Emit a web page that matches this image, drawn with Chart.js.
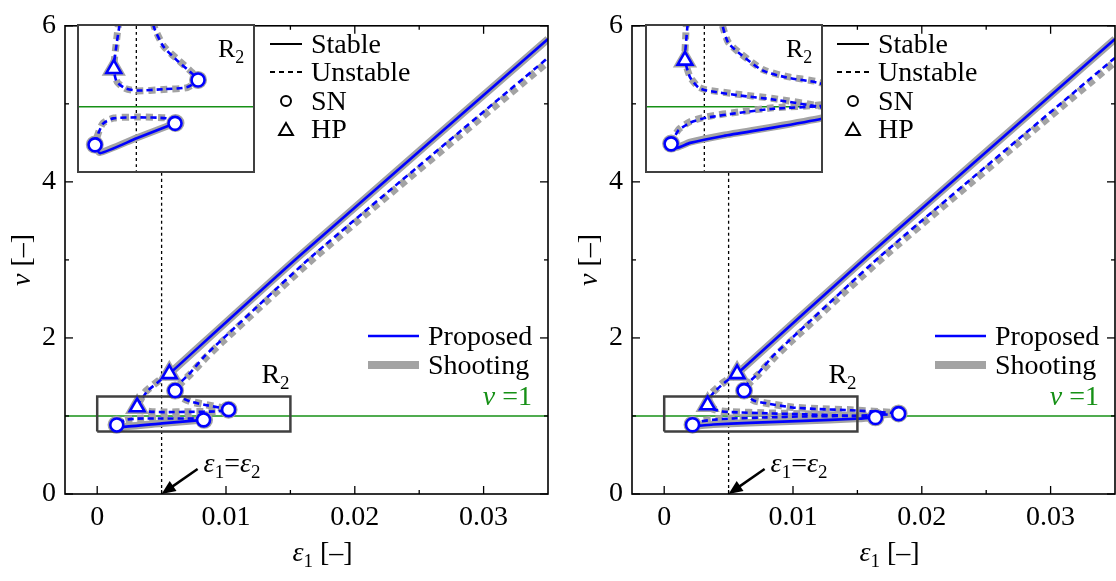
<!DOCTYPE html>
<html>
<head>
<meta charset="utf-8">
<script src="https://cdn.jsdelivr.net/npm/chart.js@4.4.1/dist/chart.umd.min.js"></script>
<style>
  body { margin: 0; background: #fff; }
  #wrap { position: relative; width: 1116px; height: 581px; }
  canvas { position: absolute; }
</style>
</head>
<body>
<div id="wrap">
  <canvas id="mainA" width="558" height="581" style="left:0;top:0"></canvas>
  <canvas id="mainB" width="558" height="581" style="left:558px;top:0"></canvas>
  <canvas id="insetA" width="178" height="149" style="left:77px;top:24px"></canvas>
  <canvas id="insetB" width="178" height="149" style="left:645px;top:24px"></canvas>
</div>
<script>
// axes
const xRange = [-0.0025, 0.035];
const yRange = [0, 6];
const xTicks = [0, 0.01, 0.02, 0.03];
const xMinor = [0.005, 0.015, 0.025];
const yTicks = [0, 2, 4, 6];
const yMinor = [1, 3, 5];
const nuOne = 1;
const epsEqual = 0.005;       // eps1 = eps2
const r2X = [0, 0.015];       // zoom region R2
const r2Y = [0.8, 1.25];

// left panel, proposed method
const aPropSolid = [[0.0056,1.54],[0.0157,3.05],[0.035,5.83]];
const aPropLoopSolid = [[0.00152,0.885],[0.00194,0.86],[0.00503,0.905],[0.00826,0.95]];
const aPropDash = [[0.0056,1.54],[0.0047,1.43],[0.0039,1.32],[0.0036,1.25],[0.00334,1.19],[0.0031,1.115],
  [0.00334,1.076],[0.00404,1.056],[0.00503,1.049],[0.00727,1.053],[0.00924,1.059],[0.0102,1.081],
  [0.00952,1.106],[0.0084,1.141],[0.00728,1.182],[0.00657,1.232],[0.0062,1.28],[0.00605,1.325],
  [0.0064,1.42],[0.0071,1.53],[0.0083,1.76],[0.0095,1.95],[0.0167,3.05],[0.035,5.59]];
const aPropLoopDash = [[0.00826,0.95],[0.00756,0.965],[0.00503,0.968],[0.00306,0.965],[0.00222,0.95],[0.0018,0.92],[0.00152,0.885]];
const aSN = [[0.00605,1.325],[0.0102,1.081],[0.00152,0.885],[0.00826,0.95]];
const aHP = [[0.0056,1.54],[0.0031,1.115]];

// left panel, shooting
const aShootSolid = [[0.0056,1.54],[0.0157,3.05],[0.035,5.83]];
const aShootLoopSolid = [[0.0015,0.886],[0.0019,0.862],[0.005,0.906],[0.0083,0.951]];
const aShootDash = [[0.0056,1.54],[0.0046,1.43],[0.0038,1.32],[0.0035,1.25],[0.0033,1.19],[0.0031,1.115],
  [0.0034,1.074],[0.0041,1.055],[0.005,1.048],[0.0073,1.052],[0.0093,1.058],[0.0102,1.081],
  [0.0096,1.107],[0.0085,1.142],[0.0073,1.183],[0.0066,1.233],[0.0062,1.28],[0.00605,1.325],
  [0.0065,1.42],[0.0072,1.53],[0.0085,1.76],[0.0097,1.95],[0.017,3.05],[0.035,5.54]];
const aShootLoopDash = [[0.0083,0.951],[0.0076,0.966],[0.005,0.969],[0.0031,0.966],[0.0022,0.951],[0.0018,0.921],[0.0015,0.886]];
const aShootSN = [[0.00605,1.325],[0.0102,1.081],[0.0015,0.886],[0.0083,0.951]];
const aShootHP = [[0.0056,1.54],[0.0031,1.115]];

// right panel, proposed method
const bPropSolid = [[0.00566,1.54],[0.0158,3.05],[0.035,5.83]];
const bPropDash1 = [[0.00566,1.54],[0.0047,1.43],[0.0039,1.31],[0.0036,1.25],[0.00345,1.19],[0.00337,1.14],
  [0.0038,1.089],[0.0045,1.058],[0.0052,1.049],[0.008,1.034],[0.0108,1.022],[0.0149,0.998],[0.0164,0.98]];
const bPropSolidLow = [[0.0164,0.98],[0.0149,0.964],[0.0108,0.937],[0.0066,0.912],[0.0038,0.891],[0.0027,0.876],[0.0022,0.888]];
const bPropDash2 = [[0.0022,0.888],[0.0028,0.928],[0.0038,0.952],[0.0052,0.967],[0.008,0.982],[0.0108,0.994],
  [0.0149,1.003],[0.0182,1.03],[0.0145,1.073],[0.012,1.088],[0.00994,1.109],[0.008,1.16],[0.007,1.194],
  [0.0065,1.25],[0.0062,1.325],[0.0065,1.42],[0.0072,1.53],[0.0084,1.76],[0.0096,1.95],[0.0168,3.05],[0.035,5.59]];
const bSN = [[0.0062,1.325],[0.0022,0.888],[0.0164,0.98],[0.0182,1.03]];
const bHP = [[0.00566,1.54],[0.00337,1.14]];

// right panel, shooting
const bShootSolid = [[0.00566,1.54],[0.0158,3.05],[0.035,5.83]];
const bShootDash1 = [[0.00566,1.54],[0.0046,1.43],[0.0038,1.31],[0.0035,1.25],[0.0034,1.19],[0.00337,1.14],
  [0.0038,1.09],[0.0045,1.06],[0.0052,1.051],[0.008,1.037],[0.0108,1.025],[0.0149,1.001],[0.0164,0.982]];
const bShootSolidLow = [[0.0164,0.982],[0.0149,0.966],[0.0108,0.939],[0.0066,0.914],[0.0038,0.893],[0.0027,0.878],[0.0022,0.889]];
const bShootDash2 = [[0.0022,0.889],[0.0028,0.93],[0.0038,0.955],[0.0052,0.97],[0.008,0.985],[0.0108,0.997],
  [0.0149,1.006],[0.0182,1.032],[0.0145,1.076],[0.012,1.091],[0.00994,1.112],[0.008,1.162],[0.007,1.196],
  [0.0065,1.25],[0.0062,1.325],[0.0066,1.42],[0.0073,1.53],[0.0086,1.76],[0.0098,1.95],[0.0171,3.05],[0.035,5.54]];
const bShootSN = [[0.0062,1.325],[0.0022,0.889],[0.0164,0.982],[0.0182,1.032]];
const bShootHP = [[0.00566,1.54],[0.00337,1.14]];

const FONT = '"Liberation Serif"';
const FS = 28;
const BLUE = '#0000ff';
const GRAY = '#a3a3a3';
const GREEN = '#169016';
const BOXC = '#404040';

function pts(arr) { return arr.map(p => ({ x: p[0], y: p[1] })); }

function lineSet(arr, color, width, dash, order) {
  return { data: pts(arr), showLine: true, borderColor: color, borderWidth: width, borderDash: dash || [],
    pointRadius: 0, order: order, tension: 0.2, borderCapStyle: 'butt', borderJoinStyle: 'round', clip: 0 };
}
function markSet(arr, style, r, color, bg, bw, order) {
  return { data: pts(arr), showLine: false, pointStyle: style, pointRadius: r, pointBorderColor: color,
    pointBackgroundColor: bg, pointBorderWidth: bw, order: order, clip: false };
}

function drawRich(ctx, x, y, parts, size, align, color) {
  const fontOf = p => (p.i ? 'italic ' : '') + Math.round(p.s ? size * 0.68 : size) + 'px ' + FONT;
  let w = 0;
  parts.forEach(p => { ctx.font = fontOf(p); w += ctx.measureText(p.t).width; });
  let cx = align === 'center' ? x - w / 2 : align === 'right' ? x - w : x;
  ctx.fillStyle = color || '#000';
  ctx.textAlign = 'left';
  ctx.textBaseline = 'alphabetic';
  parts.forEach(p => {
    ctx.font = fontOf(p);
    ctx.fillText(p.t, cx, y + (p.s ? size * 0.22 : 0));
    cx += ctx.measureText(p.t).width;
  });
}

function tri(ctx, x, y, r) {
  ctx.beginPath();
  for (let k = 0; k < 3; k++) {
    const ang = k * 2 * Math.PI / 3;
    const px = x + Math.sin(ang) * r, py = y - Math.cos(ang) * r;
    if (k === 0) ctx.moveTo(px, py); else ctx.lineTo(px, py);
  }
  ctx.closePath();
}

const panelDeco = {
  id: 'panelDeco',
  beforeDraw(chart, args, o) {
    if (o.inset) {
      chart.ctx.fillStyle = '#fff';
      chart.ctx.fillRect(0, 0, chart.width, chart.height);
    }
  },
  afterDraw(chart, args, o) {
    const { ctx, chartArea: a, scales: { x, y } } = chart;
    ctx.save();
    if (o.inset) {
      ctx.strokeStyle = BOXC; ctx.lineWidth = 2;
      ctx.strokeRect(1, 1, chart.width - 2, chart.height - 2);
      drawRich(ctx, 141, 33, [{ t: 'R' }, { t: '2', s: 1 }], 26);
      ctx.restore();
      return;
    }
    // inward ticks on all sides
    ctx.strokeStyle = '#000'; ctx.lineWidth = 1.3;
    const tick = (x0, y0, x1, y1) => { ctx.beginPath(); ctx.moveTo(x0, y0); ctx.lineTo(x1, y1); ctx.stroke(); };
    xTicks.concat(xMinor).forEach((v, i) => {
      const px = x.getPixelForValue(v), L = i < xTicks.length ? 8 : 4;
      tick(px, a.bottom, px, a.bottom - L); tick(px, a.top, px, a.top + L);
    });
    yTicks.concat(yMinor).forEach((v, i) => {
      const py = y.getPixelForValue(v), L = i < yTicks.length ? 8 : 4;
      tick(a.left, py, a.left + L, py); tick(a.right, py, a.right - L, py);
    });
    ctx.lineWidth = 1.6;
    ctx.strokeRect(a.left, a.top, a.right - a.left, a.bottom - a.top);

    // axis titles
    drawRich(ctx, x.getPixelForValue((xTicks[0] + xRange[1]) / 2), 561,
      [{ t: 'ε', i: 1 }, { t: '1', s: 1 }, { t: ' [–]' }], FS, 'center');
    ctx.save();
    ctx.translate(a.left - 35, (a.top + a.bottom) / 2);
    ctx.rotate(-Math.PI / 2);
    drawRich(ctx, 0, 0, [{ t: 'ν', i: 1 }, { t: ' [–]' }], FS, 'center');
    ctx.restore();

    // R2 label over the zoom box
    drawRich(ctx, x.getPixelForValue(r2X[1]) - 29, 383, [{ t: 'R' }, { t: '2', s: 1 }], FS);

    // eps1 = eps2 arrow
    const tx = x.getPixelForValue(epsEqual), ty = y.getPixelForValue(yRange[0]);
    const sx = tx + 36, sy = ty - 25;
    const dl = Math.hypot(tx - sx, ty - sy), ux = (tx - sx) / dl, uy = (ty - sy) / dl;
    ctx.strokeStyle = '#000'; ctx.lineWidth = 2.5;
    tick(sx, sy, tx - ux * 9, ty - uy * 9);
    ctx.fillStyle = '#000';
    ctx.beginPath();
    ctx.moveTo(tx, ty);
    ctx.lineTo(tx - ux * 14 - uy * 6, ty - uy * 14 + ux * 6);
    ctx.lineTo(tx - ux * 14 + uy * 6, ty - uy * 14 - ux * 6);
    ctx.closePath(); ctx.fill();
    drawRich(ctx, tx + 42, ty - 22,
      [{ t: 'ε', i: 1 }, { t: '1', s: 1 }, { t: '=' }, { t: 'ε', i: 1 }, { t: '2', s: 1 }], FS);

    // legend: line styles and markers
    const L0 = a.left + 205, L1 = a.left + 237, LT = a.left + 246;
    ctx.strokeStyle = '#000'; ctx.lineWidth = 2;
    tick(L0, 44, L1, 44);
    ctx.setLineDash([5, 4]); tick(L0, 72, L1, 72); ctx.setLineDash([]);
    ctx.beginPath(); ctx.arc((L0 + L1) / 2, 101, 5, 0, 2 * Math.PI); ctx.stroke();
    tri(ctx, (L0 + L1) / 2, 131, 8); ctx.stroke();
    const rows = [['Stable', 44], ['Unstable', 72], ['SN', 101], ['HP', 129]];
    rows.forEach(r => drawRich(ctx, LT, r[1] + 9, [{ t: r[0] }], FS));

    // legend: methods
    const M0 = a.left + 303, M1 = a.left + 354, MT = a.left + 363;
    ctx.strokeStyle = BLUE; ctx.lineWidth = 2.5; tick(M0, 336, M1, 336);
    ctx.strokeStyle = GRAY; ctx.lineWidth = 8; tick(M0, 365, M1, 365);
    drawRich(ctx, MT, 345, [{ t: 'Proposed' }], FS);
    drawRich(ctx, MT, 374, [{ t: 'Shooting' }], FS);
    drawRich(ctx, a.left + 467, 405, [{ t: 'ν', i: 1 }, { t: ' =1' }], FS, 'right', GREEN);
    ctx.restore();
  }
};

function guides(isInset) {
  const xr = isInset ? r2X : xRange, yr = isInset ? r2Y : yRange;
  const out = [
    lineSet([[xr[0], nuOne], [xr[1], nuOne]], GREEN, 1.4, [], 6),
    lineSet([[epsEqual, yr[0]], [epsEqual, yr[1]]], '#000', 1.3, [3, 3], 6)
  ];
  if (!isInset) {
    const box = lineSet([[r2X[0], r2Y[0]], [r2X[1], r2Y[0]], [r2X[1], r2Y[1]], [r2X[0], r2Y[1]], [r2X[0], r2Y[0]]], BOXC, 2.5, [], 0.5);
    box.tension = 0; box.borderJoinStyle = 'miter';
    out.push(box);
  }
  return out;
}

function buildSets(p, isInset) {
  const bw = 2.6, gw = isInset ? 7 : 7.5;
  const sets = [];
  p.prop.forEach(b => sets.push(lineSet(b[0], BLUE, bw, b[1] ? [6, 4] : [], 1)));
  p.shoot.forEach(b => sets.push(lineSet(b[0], GRAY, gw, b[1] ? [7, 5] : [], 3)));
  sets.push(markSet(p.sn, 'circle', 6.5, BLUE, '#fff', 2.6, 0));
  sets.push(markSet(p.hp, 'triangle', 8.5, BLUE, '#fff', 2.6, 0));
  sets.push(markSet(p.shootSn, 'circle', 7, GRAY, GRAY, 4, 2));
  sets.push(markSet(p.shootHp, 'triangle', 10, GRAY, GRAY, 4, 2));
  return sets.concat(guides(isInset));
}

function mainChart(id, p, yWidth, padRight) {
  return new Chart(document.getElementById(id), {
    type: 'scatter',
    data: { datasets: buildSets(p, false) },
    options: {
      responsive: false, animation: false, devicePixelRatio: 1, events: [],
      layout: { autoPadding: false, padding: { top: 14, right: padRight, left: 0, bottom: 0 } },
      plugins: { legend: { display: false }, tooltip: { enabled: false }, panelDeco: {} },
      scales: {
        x: {
          type: 'linear', min: xRange[0], max: xRange[1],
          grid: { display: false, drawTicks: false }, border: { display: false },
          afterBuildTicks: s => { s.ticks = xTicks.map(v => ({ value: v })); },
          afterFit: s => { s.height = 87; },
          ticks: { font: { family: 'Liberation Serif', size: FS }, color: '#000', padding: 7,
            maxRotation: 0, autoSkip: false, callback: v => String(v) }
        },
        y: {
          type: 'linear', min: yRange[0], max: yRange[1],
          grid: { display: false, drawTicks: false }, border: { display: false },
          afterBuildTicks: s => { s.ticks = yTicks.map(v => ({ value: v })); },
          afterFit: s => { s.width = yWidth; },
          ticks: { font: { family: 'Liberation Serif', size: FS }, color: '#000', padding: 9,
            autoSkip: false, callback: v => String(v) }
        }
      }
    },
    plugins: [panelDeco]
  });
}

function insetChart(id, p) {
  return new Chart(document.getElementById(id), {
    type: 'scatter',
    data: { datasets: buildSets(p, true) },
    options: {
      responsive: false, animation: false, devicePixelRatio: 1, events: [],
      layout: { autoPadding: false, padding: 0 },
      plugins: { legend: { display: false }, tooltip: { enabled: false }, panelDeco: { inset: true } },
      scales: {
        x: { type: 'linear', display: false, min: r2X[0], max: r2X[1] },
        y: { type: 'linear', display: false, min: r2Y[0], max: r2Y[1] }
      }
    },
    plugins: [panelDeco]
  });
}

const panelA = {
  prop: [[aPropSolid, 0], [aPropLoopSolid, 0], [aPropDash, 1], [aPropLoopDash, 1]],
  shoot: [[aShootSolid, 0], [aShootLoopSolid, 0], [aShootDash, 1], [aShootLoopDash, 1]],
  sn: aSN, hp: aHP, shootSn: aShootSN, shootHp: aShootHP
};
const panelB = {
  prop: [[bPropSolid, 0], [bPropSolidLow, 0], [bPropDash1, 1], [bPropDash2, 1]],
  shoot: [[bShootSolid, 0], [bShootSolidLow, 0], [bShootDash1, 1], [bShootDash2, 1]],
  sn: bSN, hp: bHP, shootSn: bShootSN, shootHp: bShootHP
};

mainChart('mainA', panelA, 65, 10);
mainChart('mainB', panelB, 74, 1);
insetChart('insetA', panelA);
insetChart('insetB', panelB);
</script>
</body>
</html>
